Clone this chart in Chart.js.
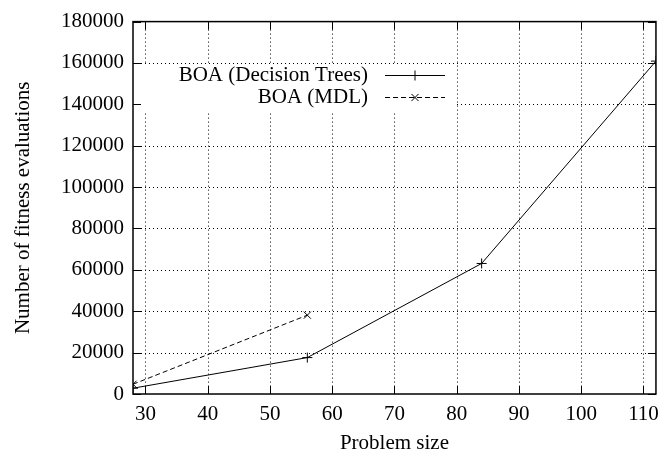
<!DOCTYPE html>
<html>
<head>
<meta charset="utf-8">
<script src="https://cdn.jsdelivr.net/npm/chart.js@4.4.0/dist/chart.umd.min.js"></script>
<style>
  body { margin: 0; background: #fff; }
  #wrap { width: 667px; height: 460px; }
</style>
</head>
<body>
<div id="wrap"><canvas id="myChart" width="667" height="460"></canvas></div>
<script>
// data
var problemSize = [28, 56, 84, 112];
var treesEvals = [2800, 17600, 63100, 160900];
var mdlSize = [28, 56];
var mdlEvals = [4700, 38100];
var xTicks = [30, 40, 50, 60, 70, 80, 90, 100, 110];
var yTicks = [0, 20000, 40000, 60000, 80000, 100000, 120000, 140000, 160000, 180000];

var FONT = "'Liberation Serif', 'DejaVu Serif', serif";
var FSIZE = 21;

function toPoints(xs, ys) {
    var pts = [];
    for (var i = 0; i < xs.length; i++) {
        pts.push({x: xs[i], y: ys[i]});
    }
    return pts;
}

// gnuplot look: dotted grid, inner tick marks on all borders, legend inside the plot
var gnuplotBits = {
    id: 'gnuplotBits',
    beforeDatasetsDraw: function (chart) {
        var ctx = chart.ctx;
        var a = chart.chartArea;
        var xs = chart.scales.x, ys = chart.scales.y;
        ctx.save();
        ctx.strokeStyle = '#000';
        ctx.lineWidth = 1;
        ctx.setLineDash([1, 3]);
        ctx.beginPath();
        for (var i = 0; i < xTicks.length; i++) {
            var px = Math.round(xs.getPixelForValue(xTicks[i])) + 0.5;
            ctx.moveTo(px, a.top); ctx.lineTo(px, a.bottom);
        }
        for (var j = 1; j < yTicks.length - 1; j++) {
            var py = Math.round(ys.getPixelForValue(yTicks[j])) + 0.5;
            ctx.moveTo(a.left, py); ctx.lineTo(a.right, py);
        }
        ctx.stroke();
        // the key box is opaque, it hides the grid behind it
        ctx.fillStyle = '#fff';
        ctx.fillRect(a.left + 1, 65, 456 - a.left - 1, 48);
        ctx.restore();
    },
    afterDraw: function (chart) {
        var ctx = chart.ctx;
        var a = chart.chartArea;
        var xs = chart.scales.x, ys = chart.scales.y;
        ctx.save();
        ctx.strokeStyle = '#000';
        ctx.lineWidth = 1;
        ctx.setLineDash([]);
        ctx.beginPath();
        for (var i = 0; i < xTicks.length; i++) {
            var px = Math.round(xs.getPixelForValue(xTicks[i])) + 0.5;
            ctx.moveTo(px, a.bottom); ctx.lineTo(px, a.bottom - 8);
            ctx.moveTo(px, a.top); ctx.lineTo(px, a.top + 8);
        }
        for (var j = 0; j < yTicks.length; j++) {
            var py = Math.round(ys.getPixelForValue(yTicks[j])) + 0.5;
            ctx.moveTo(a.left, py); ctx.lineTo(a.left + 8, py);
            ctx.moveTo(a.right, py); ctx.lineTo(a.right - 8, py);
        }
        ctx.stroke();
        ctx.lineWidth = 1.5;
        ctx.strokeRect(a.left, a.top, a.right - a.left, a.bottom - a.top);

        // legend
        var ds = chart.data.datasets;
        var textRight = 368, lineL = 385, lineR = 445;
        var rowY = [75, 97];
        ctx.font = FSIZE + 'px ' + FONT;
        ctx.fillStyle = '#000';
        ctx.textAlign = 'right';
        ctx.textBaseline = 'middle';
        for (var k = 0; k < ds.length; k++) {
            var y = rowY[k];
            ctx.fillText(ds[k].label, textRight, y);
            ctx.lineWidth = 1;
            ctx.setLineDash(ds[k].borderDash || []);
            ctx.beginPath();
            ctx.moveTo(lineL, y + 0.5); ctx.lineTo(lineR, y + 0.5);
            ctx.stroke();
            ctx.setLineDash([]);
            Chart.helpers.drawPoint(ctx, {pointStyle: ds[k].pointStyle, radius: 5, borderWidth: 1},
                (lineL + lineR) / 2, y + 0.5);
        }
        ctx.restore();
    }
};

var ctx = document.getElementById("myChart").getContext("2d");
var myChart = new Chart(ctx, {
    type: 'line',
    data: {
        datasets: [
            {
                label: 'BOA (Decision Trees)',
                data: toPoints(problemSize, treesEvals),
                borderColor: '#000',
                backgroundColor: '#000',
                borderWidth: 1,
                pointStyle: 'cross',
                pointRadius: 5,
                pointBorderWidth: 1,
                tension: 0
            },
            {
                label: 'BOA (MDL)',
                data: toPoints(mdlSize, mdlEvals),
                borderColor: '#000',
                backgroundColor: '#000',
                borderWidth: 1,
                borderDash: [5, 3],
                pointStyle: 'crossRot',
                pointRadius: 5,
                pointBorderWidth: 1,
                tension: 0
            }
        ]
    },
    options: {
        responsive: false,
        animation: false,
        layout: { padding: { top: 13, right: 5, left: 7, bottom: 0 } },
        plugins: {
            legend: { display: false },
            tooltip: { enabled: false }
        },
        scales: {
            x: {
                type: 'linear',
                min: 28,
                max: 112,
                afterBuildTicks: function (scale) {
                    scale.ticks = xTicks.map(function (v) { return {value: v}; });
                },
                afterFit: function (scale) { scale.height = 66; },
                grid: { display: false, drawTicks: false },
                border: { display: false },
                ticks: { color: '#000', font: { family: FONT, size: FSIZE }, padding: 8, maxRotation: 0 },
                title: { display: true, text: 'Problem size', color: '#000',
                         font: { family: FONT, size: FSIZE }, padding: { top: 6 } }
            },
            y: {
                min: 0,
                max: 180000,
                afterBuildTicks: function (scale) {
                    scale.ticks = yTicks.map(function (v) { return {value: v}; });
                },
                afterFit: function (scale) { scale.width = 126; },
                grid: { display: false, drawTicks: false },
                border: { display: false },
                ticks: { color: '#000', font: { family: FONT, size: FSIZE }, padding: 9,
                         callback: function (v) { return String(v); } },
                title: { display: true, text: 'Number of fitness evaluations', color: '#000',
                         font: { family: FONT, size: FSIZE }, padding: { bottom: 0 } }
            }
        }
    },
    plugins: [gnuplotBits]
});
</script>
</body>
</html>
